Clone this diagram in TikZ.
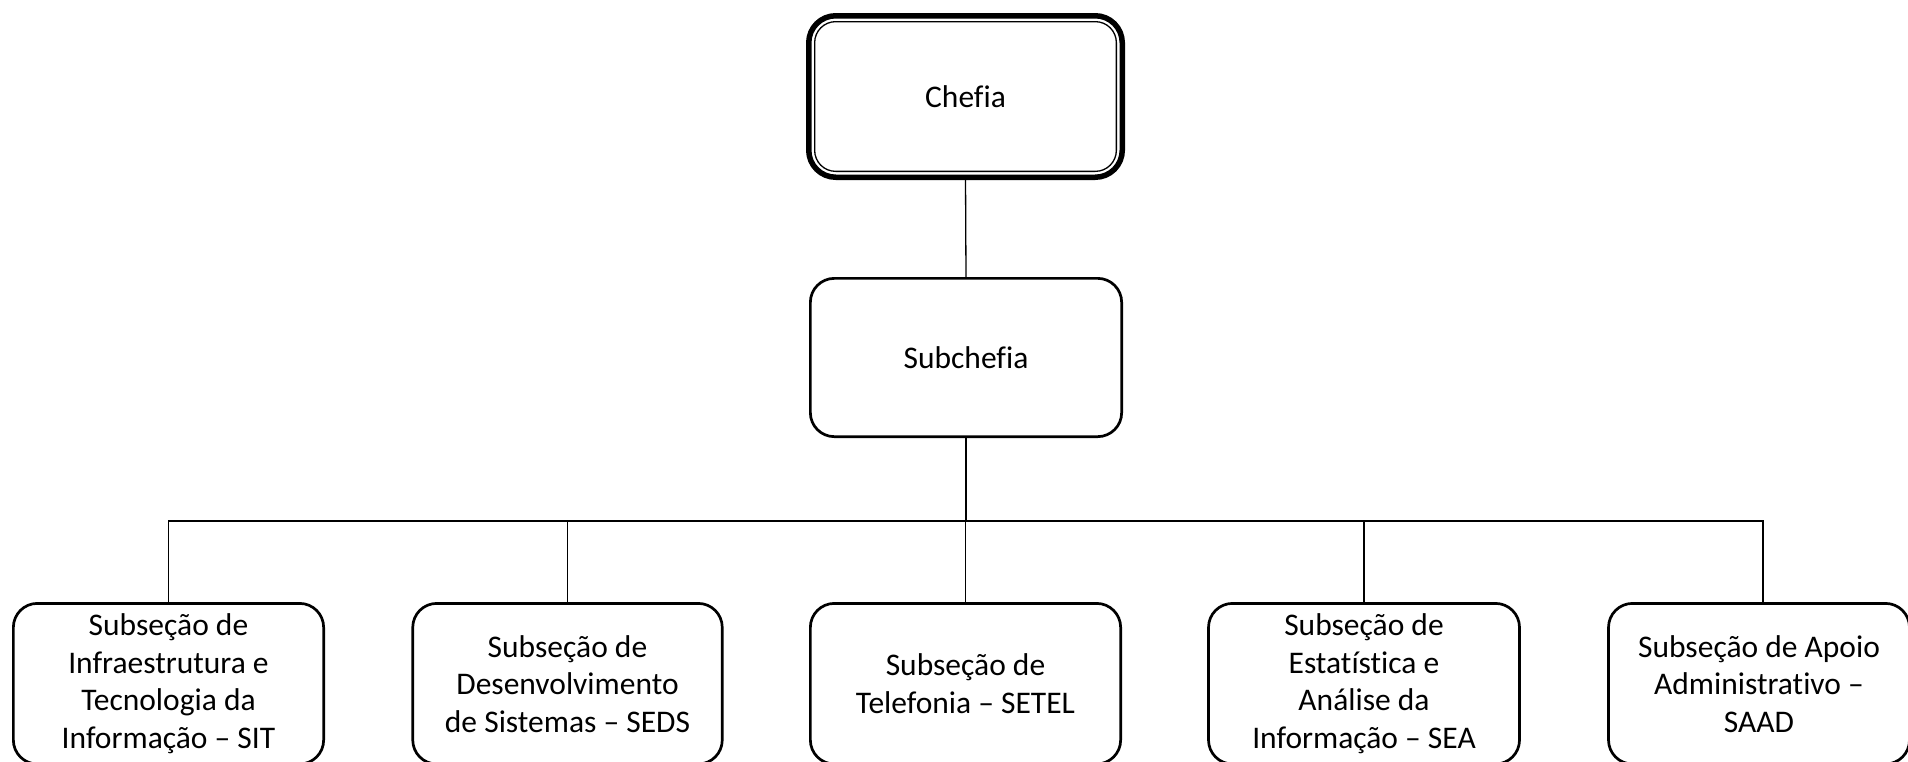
\documentclass[tikz,border=0pt]{standalone}
\usepackage{fontspec}
\setmainfont[Ligatures=NoCommon]{Carlito}
\begin{document}
\begin{tikzpicture}[x=1pt,y=-1pt,
  box/.style={draw=black, line width=2.7pt, rounded corners=24pt, outer sep=0pt,
    fill=white, align=center, inner sep=0pt,
    font=\fontsize{31.5}{37.5}\selectfont},
  conn/.style={draw=black, line width=1.3pt},
  thickconn/.style={draw=black, line width=2.8pt}]
\useasboundingbox (0,0) rectangle (1908,761);

% Chefia with thick-thin double border
\node[box, line width=5.5pt, rounded corners=27pt, minimum width=313.5pt, minimum height=161.5pt]
  (chefia) at (965.5,96.5) {Chefia};
\draw[line width=1.3pt, rounded corners=21pt]
  ([shift={(5.9,5.9)}]chefia.north west) rectangle ([shift={(-5.9,-5.9)}]chefia.south east);

% Subchefia
\node[box, minimum width=311.3pt, minimum height=158.3pt] (sub) at (966,357.5) {Subchefia};

% Bottom row
\node[box, minimum width=310.3pt, minimum height=160.6pt] (b1) at (168.5,683.7)
  {Subseção de\\Infraestrutura e\\Tecnologia da\\Informação – SIT};
\node[box, minimum width=309.5pt, minimum height=160.6pt] (b2) at (567.5,683.7)
  {Subseção de\\Desenvolvimento\\de Sistemas – SEDS};
\node[box, minimum width=310.3pt, minimum height=160.6pt] (b3) at (965.5,683.7)
  {Subseção de\\Telefonia – SETEL};
\node[box, minimum width=311pt, minimum height=160.6pt] (b4) at (1364,683.7)
  {Subseção de\\Estatística e\\Análise da\\Informação – SEA};
\node[box, minimum width=301pt, minimum height=160.6pt] (b5) at (1759,683.7)
  {Subseção de Apoio\\Administrativo –\\SAAD};

% Connectors
\coordinate (bus) at (966,521);
\coordinate (b5top) at (1763,603.3);
\draw[conn] (chefia.south) -- (sub.north);
\draw[thickconn] (sub.south) -- (bus);
\draw[conn] (bus) -| (b1.north);
\draw[conn] (bus) -| (b2.north);
\draw[conn] (bus) -| (b3.north);
\draw[conn] (bus) -| (b4.north);
\draw[conn] (bus) -| (b5top);
\end{tikzpicture}
\end{document}
